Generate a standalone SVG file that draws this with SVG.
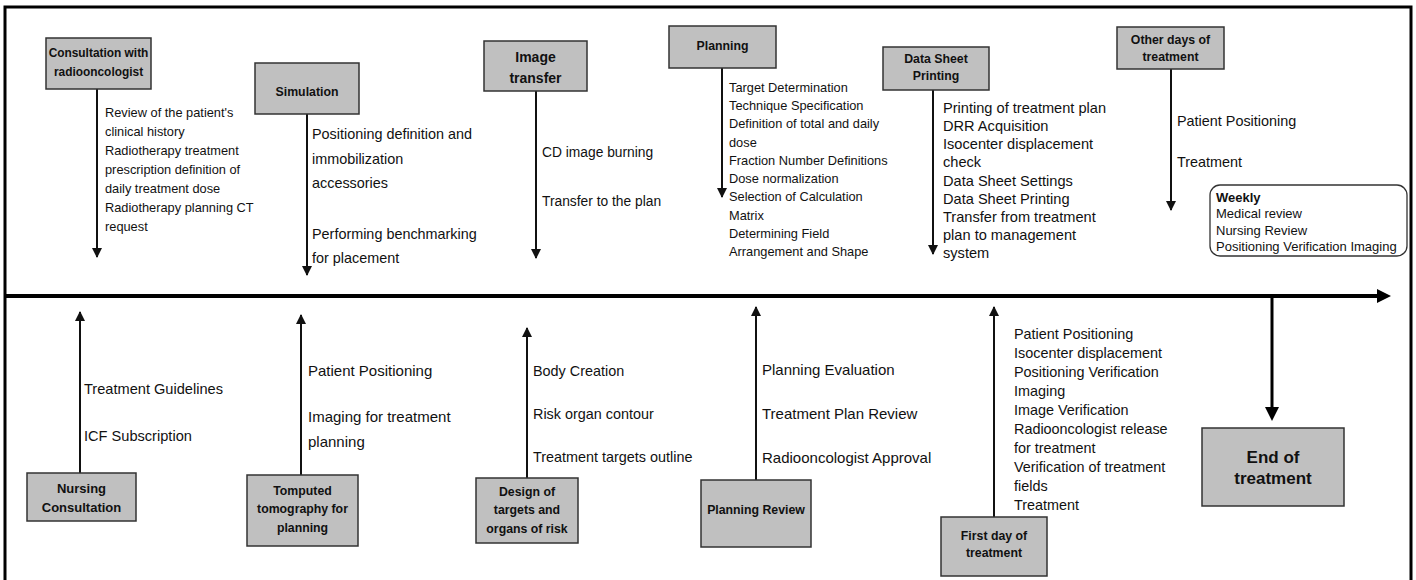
<svg xmlns="http://www.w3.org/2000/svg" width="1416" height="580" viewBox="0 0 1416 580">
<defs>
<marker id="ah" markerUnits="userSpaceOnUse" markerWidth="10" markerHeight="12" viewBox="0 0 10 12" refX="9" refY="6" orient="auto">
<path d="M0,1 L10,6 L0,11 Z" fill="#111"/>
</marker>
</defs>
<style>
.box{fill:#c0c0c0;stroke:#333;stroke-width:1.5}
.bt{font-family:"Liberation Sans",Arial,sans-serif;font-weight:bold;font-size:12.3px;text-anchor:middle;fill:#111}
.nt{font-family:"Liberation Sans",Arial,sans-serif;fill:#111}
.arr{stroke:#111;stroke-width:2;fill:none;marker-end:url(#ah)}
.s128{font-size:12.8px}
.s13{font-size:13px}
.s138{font-size:13.8px}
.s144{font-size:14.4px}
.s146{font-size:14.6px}
.s15{font-size:15px}
</style>
<rect x="5" y="7" width="1406" height="578" fill="#fff" stroke="#000" stroke-width="3"/>

<g id="connectors">
<line x1="5" y1="296" x2="1379" y2="296" stroke="#000" stroke-width="4"/>
<polygon points="1377,289 1391,296 1377,303" fill="#000"/>
<line x1="1272" y1="296" x2="1272" y2="409" stroke="#000" stroke-width="3"/>
<polygon points="1265,407 1279,407 1272,421" fill="#000"/>
<line class="arr" x1="97" y1="89" x2="97" y2="257"/>
<line class="arr" x1="307" y1="114" x2="307" y2="275"/>
<line class="arr" x1="536" y1="91" x2="536" y2="258"/>
<line class="arr" x1="722" y1="68" x2="722" y2="197"/>
<line class="arr" x1="933" y1="90" x2="933" y2="254"/>
<line class="arr" x1="1171" y1="69" x2="1171" y2="210"/>
<line class="arr" x1="80" y1="473" x2="80" y2="312"/>
<line class="arr" x1="301" y1="475" x2="301" y2="315"/>
<line class="arr" x1="527" y1="478" x2="527" y2="328"/>
<line class="arr" x1="756" y1="480" x2="756" y2="307"/>
<line class="arr" x1="994" y1="517" x2="994" y2="307"/>
</g>

<g id="consultation">
<rect class="box" x="46" y="38" width="105" height="51"/>
<text class="bt" x="98.5" y="57" style="font-size:11.9px">Consultation with</text>
<text class="bt" x="98.5" y="76" style="font-size:11.9px">radiooncologist</text>
<text class="nt s128" x="105" y="117">Review of the patient's</text>
<text class="nt s128" x="105" y="136">clinical history</text>
<text class="nt s128" x="105" y="155">Radiotherapy treatment</text>
<text class="nt s128" x="105" y="174">prescription definition of</text>
<text class="nt s128" x="105" y="193">daily treatment dose</text>
<text class="nt s128" x="105" y="212">Radiotherapy planning CT</text>
<text class="nt s128" x="105" y="231">request</text>
</g>

<g id="simulation">
<rect class="box" x="255" y="63" width="104" height="51"/>
<text class="bt" x="307" y="96">Simulation</text>
<text class="nt s144" x="312" y="139">Positioning definition and</text>
<text class="nt s144" x="312" y="164">immobilization</text>
<text class="nt s144" x="312" y="188">accessories</text>
<text class="nt s144" x="312" y="239">Performing benchmarking</text>
<text class="nt s144" x="312" y="263">for placement</text>
</g>

<g id="image-transfer">
<rect class="box" x="484" y="41" width="103" height="50"/>
<text class="bt" x="535.5" y="62" style="font-size:14px">Image</text>
<text class="bt" x="535.5" y="83" style="font-size:14px">transfer</text>
<text class="nt s138" x="542" y="157">CD image burning</text>
<text class="nt s138" x="542" y="206">Transfer to the plan</text>
</g>

<g id="planning">
<rect class="box" x="669" y="26" width="107" height="42"/>
<text class="bt" x="722.5" y="50">Planning</text>
<text class="nt s128" x="729" y="92">Target Determination</text>
<text class="nt s128" x="729" y="110">Technique Specification</text>
<text class="nt s128" x="729" y="128">Definition of total and daily</text>
<text class="nt s128" x="729" y="147">dose</text>
<text class="nt s128" x="729" y="165">Fraction Number Definitions</text>
<text class="nt s128" x="729" y="183">Dose normalization</text>
<text class="nt s128" x="729" y="201">Selection of Calculation</text>
<text class="nt s128" x="729" y="220">Matrix</text>
<text class="nt s128" x="729" y="238">Determining Field</text>
<text class="nt s128" x="729" y="256">Arrangement and Shape</text>
</g>

<g id="data-sheet">
<rect class="box" x="883" y="47" width="106" height="43"/>
<text class="bt" x="936" y="63">Data Sheet</text>
<text class="bt" x="936" y="80">Printing</text>
<text class="nt s146" x="943" y="113">Printing of treatment plan</text>
<text class="nt s146" x="943" y="131">DRR Acquisition</text>
<text class="nt s146" x="943" y="149">Isocenter displacement</text>
<text class="nt s146" x="943" y="167">check</text>
<text class="nt s146" x="943" y="186">Data Sheet Settings</text>
<text class="nt s146" x="943" y="204">Data Sheet Printing</text>
<text class="nt s146" x="943" y="222">Transfer from treatment</text>
<text class="nt s146" x="943" y="240">plan to management</text>
<text class="nt s146" x="943" y="258">system</text>
</g>

<g id="other-days">
<rect class="box" x="1117" y="27" width="107" height="42"/>
<text class="bt" x="1170.5" y="44">Other days of</text>
<text class="bt" x="1170.5" y="61">treatment</text>
<text class="nt s144" x="1177" y="126">Patient Positioning</text>
<text class="nt s144" x="1177" y="167">Treatment</text>
</g>

<g id="weekly">
<rect x="1210" y="185" width="197" height="71" rx="10" fill="#fff" stroke="#333" stroke-width="1.3"/>
<text class="nt s13" x="1216" y="202" font-weight="bold">Weekly</text>
<text class="nt s13" x="1216" y="218">Medical review</text>
<text class="nt s13" x="1216" y="235">Nursing Review</text>
<text class="nt s13" x="1216" y="251">Positioning Verification Imaging</text>
</g>

<g id="nursing">
<rect class="box" x="27" y="473" width="109" height="48"/>
<text class="bt" x="81.5" y="493" style="font-size:13px">Nursing</text>
<text class="bt" x="81.5" y="512" style="font-size:13px">Consultation</text>
<text class="nt s146" x="84" y="394">Treatment Guidelines</text>
<text class="nt s146" x="84" y="441">ICF Subscription</text>
</g>

<g id="ct-planning">
<rect class="box" x="247" y="475" width="111" height="71"/>
<text class="bt" x="302.5" y="495">Tomputed</text>
<text class="bt" x="302.5" y="513">tomography for</text>
<text class="bt" x="302.5" y="532">planning</text>
<text class="nt s15" x="308" y="376">Patient Positioning</text>
<text class="nt s15" x="308" y="422">Imaging for treatment</text>
<text class="nt s15" x="308" y="447">planning</text>
</g>

<g id="design">
<rect class="box" x="476" y="478" width="102" height="65"/>
<text class="bt" x="527" y="496">Design of</text>
<text class="bt" x="527" y="514">targets and</text>
<text class="bt" x="527" y="533">organs of risk</text>
<text class="nt s144" x="533" y="376">Body Creation</text>
<text class="nt s144" x="533" y="419">Risk organ contour</text>
<text class="nt s144" x="533" y="462">Treatment targets outline</text>
</g>

<g id="planning-review">
<rect class="box" x="701" y="480" width="110" height="67"/>
<text class="bt" x="756" y="514">Planning Review</text>
<text class="nt s15" x="762" y="375">Planning Evaluation</text>
<text class="nt s15" x="762" y="419">Treatment Plan Review</text>
<text class="nt s15" x="762" y="463">Radiooncologist Approval</text>
</g>

<g id="first-day">
<rect class="box" x="941" y="517" width="106" height="59"/>
<text class="bt" x="994" y="540">First day of</text>
<text class="bt" x="994" y="557">treatment</text>
<text class="nt s144" x="1014" y="339">Patient Positioning</text>
<text class="nt s144" x="1014" y="358">Isocenter displacement</text>
<text class="nt s144" x="1014" y="377">Positioning Verification</text>
<text class="nt s144" x="1014" y="396">Imaging</text>
<text class="nt s144" x="1014" y="415">Image Verification</text>
<text class="nt s144" x="1014" y="434">Radiooncologist release</text>
<text class="nt s144" x="1014" y="453">for treatment</text>
<text class="nt s144" x="1014" y="472">Verification of treatment</text>
<text class="nt s144" x="1014" y="491">fields</text>
<text class="nt s144" x="1014" y="510">Treatment</text>
</g>

<g id="end">
<rect class="box" x="1202" y="428" width="142" height="78"/>
<text class="bt" x="1273" y="463" style="font-size:17px">End of</text>
<text class="bt" x="1273" y="484" style="font-size:17px">treatment</text>
</g>
</svg>
